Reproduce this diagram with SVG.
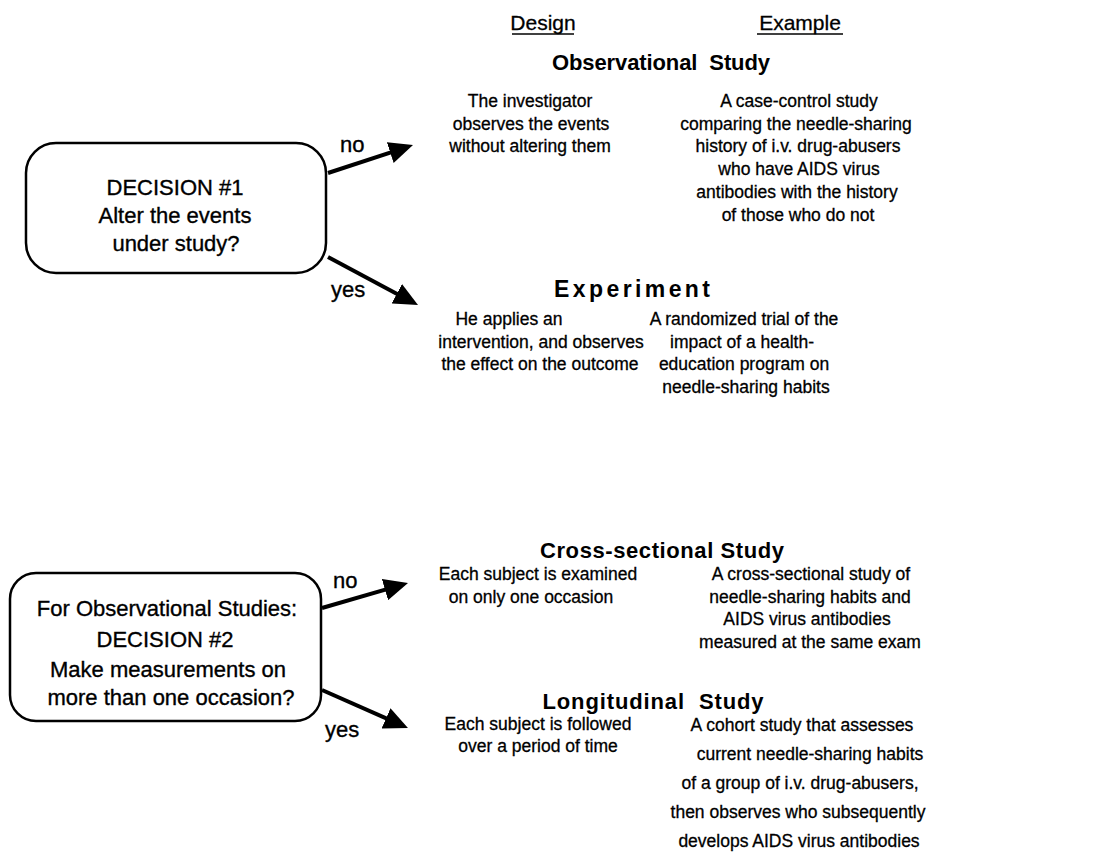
<svg xmlns="http://www.w3.org/2000/svg" width="1105" height="856" viewBox="0 0 1105 856">
  <style>
    .box { fill: #ffffff; stroke: #000000; stroke-width: 2.5; }
    .bt { font-family: "Liberation Sans", Arial, sans-serif; font-size: 22px; fill: #000; stroke: #000; stroke-width: 0.35; text-anchor: middle; }
    .lbl { font-family: "Liberation Sans", Arial, sans-serif; font-size: 22px; fill: #000; stroke: #000; stroke-width: 0.35; }
    .t { font-family: "Liberation Sans", Arial, sans-serif; font-size: 17.5px; fill: #000; stroke: #000; stroke-width: 0.3; text-anchor: middle; }
    .ttl { font-family: "Liberation Sans", Arial, sans-serif; font-size: 22px; font-weight: bold; fill: #000; text-anchor: middle; }
    .hdr { font-family: "Liberation Sans", Arial, sans-serif; font-size: 21px; fill: #000; stroke: #000; stroke-width: 0.3; text-anchor: middle; }
    .ul { stroke: #000; stroke-width: 1.6; }
    .arrow { stroke: #000; stroke-width: 4; fill: none; marker-end: url(#head); }
  </style>
  <defs>
    <marker id="head" viewBox="0 0 24 22" refX="12" refY="11" markerWidth="24" markerHeight="22" markerUnits="userSpaceOnUse" orient="auto">
      <path d="M0,0 L24,11 L0,22 z" fill="#000"/>
    </marker>
  </defs>

  <rect width="1105" height="856" fill="#ffffff"/>

  <!-- column headers -->
  <g id="headers">
    <text class="hdr" x="543" y="30">Design</text>
    <line class="ul" x1="512" y1="34" x2="574" y2="34"/>
    <text class="hdr" x="800" y="30">Example</text>
    <line class="ul" x1="757" y1="34" x2="843" y2="34"/>
  </g>

  <!-- decision 1 -->
  <g id="decision1">
    <rect class="box" x="26" y="143" width="300" height="130" rx="30" ry="30"/>
    <text class="bt" x="175" y="195">DECISION #1</text>
    <text class="bt" x="175" y="223">Alter the events</text>
    <text class="bt" x="176" y="251">under study?</text>
  </g>

  <!-- decision 2 -->
  <g id="decision2">
    <rect class="box" x="10" y="573" width="311" height="148" rx="26" ry="26"/>
    <text class="bt" x="167" y="616">For Observational Studies:</text>
    <text class="bt" x="165" y="647">DECISION #2</text>
    <text class="bt" x="168" y="677">Make measurements on</text>
    <text class="bt" x="171" y="705">more than one occasion?</text>
  </g>

  <!-- connectors -->
  <g id="connectors">
    <line class="arrow" x1="328" y1="173" x2="401.6" y2="148.8"/>
    <text class="lbl" x="340" y="152">no</text>
    <line class="arrow" x1="328" y1="257" x2="407.4" y2="299.4"/>
    <text class="lbl" x="331" y="297">yes</text>
    <line class="arrow" x1="322" y1="608" x2="396.5" y2="586.3"/>
    <text class="lbl" x="333" y="588">no</text>
    <line class="arrow" x1="322" y1="690" x2="397" y2="723.2"/>
    <text class="lbl" x="325" y="737">yes</text>
  </g>

  <!-- observational study -->
  <g id="observational">
    <text class="ttl" x="661" y="70" textLength="218" xml:space="preserve">Observational  Study</text>
    <text class="t" x="530" y="107">The investigator</text>
    <text class="t" x="531" y="129.7">observes the events</text>
    <text class="t" x="530" y="152.4">without altering them</text>
    <text class="t" x="799" y="107">A case-control study</text>
    <text class="t" x="796" y="129.7">comparing the needle-sharing</text>
    <text class="t" x="798" y="152.4">history of i.v. drug-abusers</text>
    <text class="t" x="799" y="175.1">who have AIDS virus</text>
    <text class="t" x="797" y="197.8">antibodies with the history</text>
    <text class="t" x="798" y="220.5">of those who do not</text>
  </g>

  <!-- experiment -->
  <g id="experiment">
    <text class="ttl" x="632" y="297" style="font-size:23px" textLength="156">Experiment</text>
    <text class="t" x="509" y="325">He applies an</text>
    <text class="t" x="541" y="347.5">intervention, and observes</text>
    <text class="t" x="540" y="370">the effect on the outcome</text>
    <text class="t" x="744" y="325">A randomized trial of the</text>
    <text class="t" x="742" y="347.5">impact of a health-</text>
    <text class="t" x="744" y="370">education program on</text>
    <text class="t" x="746" y="392.5">needle-sharing habits</text>
  </g>

  <!-- cross-sectional study -->
  <g id="crosssectional">
    <text class="ttl" x="662" y="558" textLength="244">Cross-sectional Study</text>
    <text class="t" x="538" y="580">Each subject is examined</text>
    <text class="t" x="531" y="602.5">on only one occasion</text>
    <text class="t" x="811" y="580">A cross-sectional study of</text>
    <text class="t" x="810" y="602.5">needle-sharing habits and</text>
    <text class="t" x="807" y="625">AIDS virus antibodies</text>
    <text class="t" x="810" y="647.5">measured at the same exam</text>
  </g>

  <!-- longitudinal study -->
  <g id="longitudinal">
    <text class="ttl" x="653" y="709" textLength="221" xml:space="preserve">Longitudinal  Study</text>
    <text class="t" x="538" y="730">Each subject is followed</text>
    <text class="t" x="538" y="752">over a period of time</text>
    <text class="t" x="802" y="731">A cohort study that assesses</text>
    <text class="t" x="810" y="760">current needle-sharing habits</text>
    <text class="t" x="800" y="789">of a group of i.v. drug-abusers,</text>
    <text class="t" x="798" y="818">then observes who subsequently</text>
    <text class="t" x="799" y="847">develops AIDS virus antibodies</text>
  </g>
</svg>
